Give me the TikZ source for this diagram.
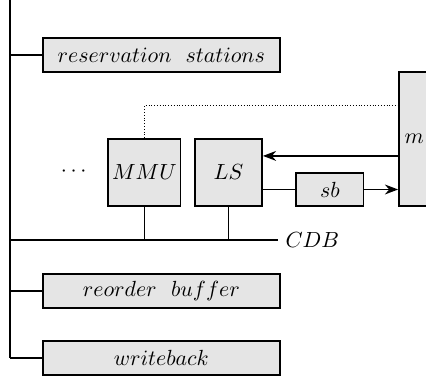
\documentclass[tikz,border=0pt]{standalone}
\usetikzlibrary{arrows.meta}
\tikzset{
  unit/.style={draw, thick, fill=gray!20, minimum height=0.6cm, inner sep=2pt},
  wide/.style={unit, minimum width=4.16cm},
  square/.style={unit, minimum width=1.18cm, minimum height=1.18cm},
}
\begin{document}
\begin{tikzpicture}[>={Stealth}, font=\fontsize{11}{13}\selectfont]
\useasboundingbox (-0.176,0) rectangle (7.31,-6.607);
\draw[thick] (0,0) -- (0,-6.29);

\node[wide] (rs) at (2.66,-0.97) {$reservation\ \ stations$};
\node[wide] (rob) at (2.66,-5.11) {$reorder\ \ buffer$};
\node[wide] (wb) at (2.66,-6.29) {$writeback$};
\draw[thick] (0,-0.97) -- (rs);
\draw[thick] (0,-5.11) -- (rob);
\draw[thick] (0,-6.29) -- (wb);

\node (dots) at (1.12,-3.02) {$\cdots$};
\node[square] (mmu) at (2.36,-3.03) {$MMU$};
\node[square] (ls) at (3.84,-3.03) {$LS$};
\node[unit, minimum width=1.19cm, minimum height=0.58cm] (sb) at (5.62,-3.33) {$sb$};
\node[unit, anchor=west, minimum height=2.35cm, minimum width=1.5cm,
  label={[anchor=west, inner sep=3pt]west:$m$}] (mem) at (6.82,-2.44) {};

\coordinate (cdbend) at (4.71,-4.22);
\draw[thick] (0,-4.22) -- (cdbend) node[right] {$CDB$};
\draw[thick] (mmu.south) -- (mmu.south |- cdbend);
\draw[thick] (ls.south) -- (ls.south |- cdbend);

\draw[densely dotted] (mmu.north) |- (mem.west |- 0,-1.86);
\draw[thick, ->] (mem.west |- 0,-2.74) -- (ls.east |- 0,-2.74);
\draw[thick] (ls.east |- sb) -- (sb);
\draw[thick, ->] (sb) -- (mem.west |- sb);
\end{tikzpicture}
\end{document}
